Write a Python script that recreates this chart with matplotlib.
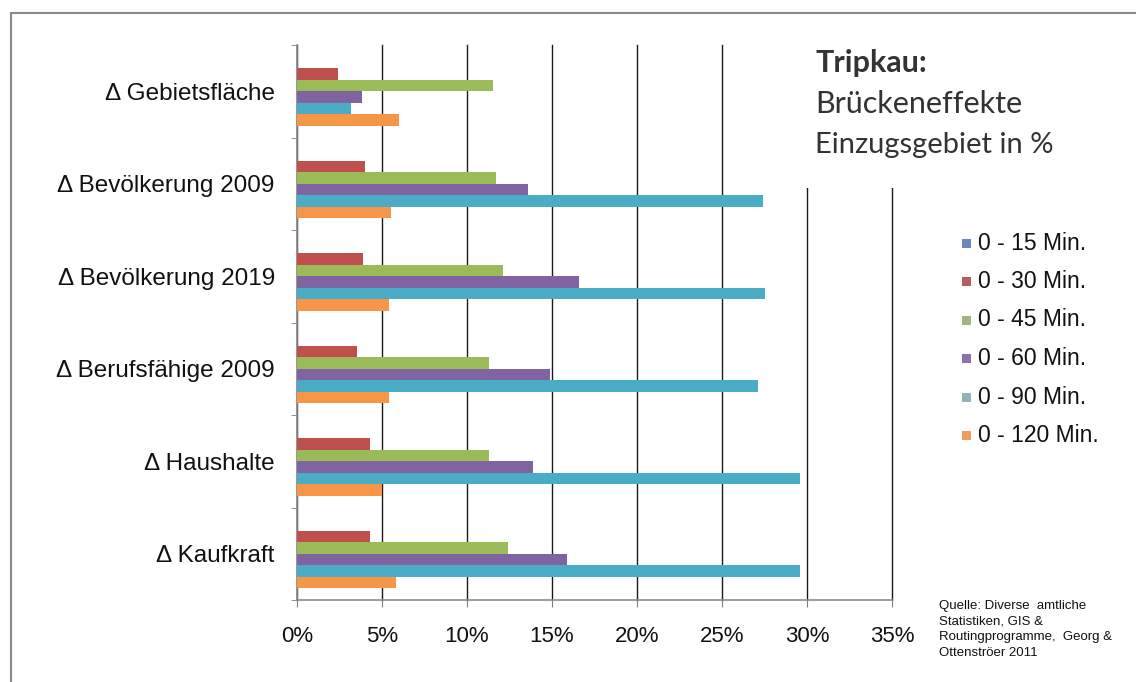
import matplotlib
matplotlib.use("Agg")
import matplotlib.pyplot as plt
from matplotlib.patches import Rectangle
from matplotlib.ticker import FixedLocator, PercentFormatter
import numpy as np

# categories, top to bottom
kategorien = ["\u0394 Gebietsfläche", "\u0394 Bevölkerung 2009", "\u0394 Bevölkerung 2019",
              "\u0394 Berufsfähige 2009", "\u0394 Haushalte", "\u0394 Kaufkraft"]

serien = ["0 - 15 Min.", "0 - 30 Min.", "0 - 45 Min.", "0 - 60 Min.", "0 - 90 Min.", "0 - 120 Min."]

# values in percent per series (same order as kategorien)
min15 = [0, 0, 0, 0, 0, 0]
min30 = [2.4, 4.0, 3.9, 3.5, 4.3, 4.3]
min45 = [11.5, 11.7, 12.1, 11.3, 11.3, 12.4]
min60 = [3.8, 13.6, 16.6, 14.9, 13.9, 15.9]
min90 = [3.2, 27.4, 27.5, 27.1, 29.6, 29.6]
min120 = [6.0, 5.5, 5.4, 5.4, 5.0, 5.8]

werte = [min15, min30, min45, min60, min90, min120]
farben = ["#4F81BD", "#C0504D", "#9BBB59", "#8064A2", "#4BACC6", "#F79646"]
legend_farben = ["#6C86C2", "#B85A5E", "#A3B581", "#8A72AE", "#93B3BA", "#F09A5C"]

W, H = 1136, 682
fig = plt.figure(figsize=(W / 100, H / 100), dpi=100)
ax = fig.add_axes([297 / W, 1 - 600 / H, (892 - 297) / W, (600 - 45) / H])
ax.set_zorder(0)

y = np.arange(len(kategorien))
h = 0.125
for j, (name, vals) in enumerate(zip(serien, werte)):
    ax.barh(y + (j - 2.5) * h, vals, height=h, color=farben[j], label=name,
            zorder=3, linewidth=0)

ax.set_xlim(0, 35)
ax.set_ylim(len(kategorien) - 0.5, -0.5)
ax.set_xticks(np.arange(0, 36, 5))
ax.xaxis.set_major_formatter(PercentFormatter(decimals=0))
ax.grid(axis="x", color="#1a1a1a", linewidth=1.0, zorder=1)
for gl in ax.get_xgridlines():
    gl.set_clip_on(False)

ax.set_yticks(y)
ax.set_yticklabels(kategorien)
ax.yaxis.set_minor_locator(FixedLocator(np.arange(-0.5, len(kategorien), 1)))
ax.tick_params(axis="y", which="major", length=0, pad=16,
               labelsize=17.5, labelcolor="#111111")
ax.tick_params(axis="y", which="minor", length=4, color="#808080", direction="out")
ax.tick_params(axis="x", which="major", length=5, color="#808080", direction="out",
               pad=14, labelsize=16, labelcolor="#111111")
for lab in ax.get_yticklabels() + ax.get_xticklabels():
    lab.set_family("Liberation Sans")

for s in ["top", "right"]:
    ax.spines[s].set_visible(False)
for s in ["left", "bottom"]:
    ax.spines[s].set_color("#8c8c8c")
    ax.spines[s].set_linewidth(1.2)

# white block behind the heading, hides the upper grid lines
fig.add_artist(Rectangle((770 / W, 1 - 188 / H), 330 / W, 150 / H,
                         transform=fig.transFigure, facecolor="white",
                         edgecolor="none", zorder=2))

fig.text(815 / W, 1 - 72 / H, "Tripkau:", family="Lato", fontweight="bold",
         fontsize=22, color="#333333", va="baseline", zorder=3)
fig.text(815 / W, 1 - 113 / H, "Brückeneffekte", family="Lato",
         fontsize=22, color="#333333", va="baseline", zorder=3)
fig.text(815 / W, 1 - 153 / H, "Einzugsgebiet in %", family="Lato",
         fontsize=21, color="#333333", va="baseline", zorder=3)

# legend drawn as square markers with labels
for j, name in enumerate(serien):
    yy = 1 - (243 + j * 38.5) / H
    fig.patches.append(Rectangle((962 / W, yy - 4.5 / H), 9 / W, 9 / H,
                                 transform=fig.transFigure,
                                 facecolor=legend_farben[j], edgecolor="none"))
    fig.text(978 / W, yy, name, family="Liberation Sans", fontsize=16.5,
             color="#111111", va="center")

fig.text(939 / W, 1 - 600 / H,
         "Quelle: Diverse  amtliche\nStatistiken, GIS &\nRoutingprogramme,  Georg &\nOttenströer 2011",
         family="Liberation Sans", fontsize=9.5, color="#111111", va="top",
         linespacing=1.4)

# outer frame
fig.add_artist(Rectangle((11 / W, -0.1), 1.2, 1 - 13 / H + 0.1,
                         transform=fig.transFigure, fill=False,
                         edgecolor="#8a8a8a", linewidth=1.5, zorder=5))

fig.savefig("out.png", dpi=100)
